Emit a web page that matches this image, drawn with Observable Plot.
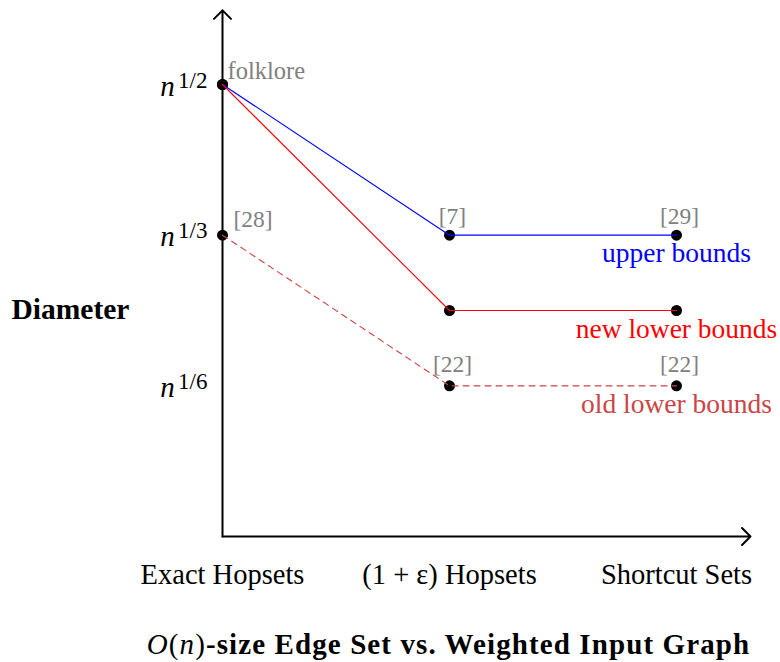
<!DOCTYPE html>
<html>
<head>
<meta charset="utf-8">
<script src="https://cdn.jsdelivr.net/npm/d3@7"></script>
<script src="https://cdn.jsdelivr.net/npm/@observablehq/plot@0.6"></script>
<style>
  html, body { margin: 0; padding: 0; background: #fff; overflow: hidden; }
  #chart svg { display: block; font-family: "Liberation Serif", serif; }
  #chart svg text { font-family: "Liberation Serif", serif; }
  #title {
    position: absolute; top: 630px; left: 448.5px; transform: translateX(-50%);
    font-family: "Liberation Serif", serif; font-size: 29px; line-height: 29px;
    font-weight: bold; white-space: nowrap; color: #000; letter-spacing: 1.1px;
  }
  #title .m { font-weight: normal; }
</style>
</head>
<body>
<div id="chart"></div>
<div id="title"><span class="m"><i>O</i>(<i>n</i>)</span>-size Edge Set vs. Weighted Input Graph</div>
<script>
// ---- data ----
const categories = ["Exact Hopsets", "(1 + ε) Hopsets", "Shortcut Sets"];
const seriesNames = ["upper bounds", "new lower bounds", "old lower bounds"];
const upperBounds = [1/2, 1/3, 1/3];
const newLowerBounds = [1/2, 1/4, 1/4];
const oldLowerBounds = [1/3, 1/6, 1/6];
const yTickValues = [1/2, 1/3, 1/6];
const yTickExponents = ["1/2", "1/3", "1/6"];
const upperRefs = ["folklore", "[7]", "[29]"];
const oldRefs = ["[28]", "[22]", "[22]"];
const seriesColors = ["#0000ff", "#ff0000", "#cc4444"];
const xAxisEnd = 2.326;
const yAxisEnd = 0.582;

const allSeries = [upperBounds, newLowerBounds, oldLowerBounds];
const points = [];
seriesNames.forEach((s, si) => {
  allSeries[si].forEach((v, i) => points.push({series: s, x: i, y: v}));
});
const solid = points.filter(d => d.series !== "old lower bounds");
const dashed = points.filter(d => d.series === "old lower bounds");
const lastPoints = points.filter(d => d.x === 2);

const upperRefRows = upperRefs.map((t, i) => ({x: i, y: upperBounds[i], t}));
const oldRefRows = oldRefs.map((t, i) => ({x: i, y: oldLowerBounds[i], t}));

const font = "Liberation Serif";

const chart = Plot.plot({
  width: 780,
  height: 600,
  marginLeft: 222,
  marginRight: 104,
  marginTop: 84,
  marginBottom: 64,
  x: {domain: [0, 2], axis: null},
  y: {domain: [0, 0.5], axis: null},
  color: {domain: seriesNames, range: seriesColors},
  style: {background: "#fff", overflow: "visible"},
  marks: [
    // axes with arrow heads
    Plot.arrow([0], {x1: 0, y1: 0, x2: 0, y2: yAxisEnd, stroke: "black", strokeWidth: 2, headLength: 9, headAngle: 90}),
    Plot.arrow([0], {x1: 0, y1: 0, x2: xAxisEnd, y2: 0, stroke: "black", strokeWidth: 2, headLength: 9, headAngle: 90}),
    // points
    Plot.dot(points, {x: "x", y: "y", r: 5.5, fill: "black"}),
    // series lines
    Plot.line(solid, {x: "x", y: "y", z: "series", stroke: "series", strokeWidth: 1.1}),
    Plot.line(dashed, {x: "x", y: "y", z: "series", stroke: "series", strokeWidth: 1.1, strokeDasharray: "6,5"}),
    // x category labels
    Plot.text(categories, {x: (d, i) => i, y: 0, text: d => d, lineAnchor: "bottom", dy: 47, fontSize: 28.5, fontFamily: font, fill: "black"}),
    // y tick labels n^{...}
    Plot.text(yTickValues, {x: 0, y: d => d, text: () => "n", textAnchor: "middle", lineAnchor: "bottom", dx: -55, dy: 11, fontSize: 29, fontFamily: font, fontStyle: "italic", fill: "black"}),
    Plot.text(yTickValues, {x: 0, y: d => d, text: (d, i) => yTickExponents[i], textAnchor: "end", lineAnchor: "bottom", dx: -15, dy: 3, fontSize: 23, fontFamily: font, fill: "black"}),
    // y axis title
    Plot.text(["Diameter"], {frameAnchor: "left", text: d => d, textAnchor: "middle", lineAnchor: "bottom", dx: -152, dy: 8, fontSize: 29.5, fontFamily: font, fontWeight: "bold", fill: "black"}),
    // reference labels
    Plot.text(upperRefRows.slice(0, 1), {x: "x", y: "y", text: "t", textAnchor: "start", lineAnchor: "bottom", dx: 5, dy: -6, fontSize: 24.5, fontFamily: font, fill: "#808080"}),
    Plot.text(upperRefRows.slice(1), {x: "x", y: "y", text: "t", textAnchor: "middle", lineAnchor: "bottom", dx: 3, dy: -11, fontSize: 23.5, fontFamily: font, fill: "#808080"}),
    Plot.text(oldRefRows.slice(0, 1), {x: "x", y: "y", text: "t", textAnchor: "middle", lineAnchor: "bottom", dx: 30.5, dy: -8, fontSize: 23.5, fontFamily: font, fill: "#808080"}),
    Plot.text(oldRefRows.slice(1), {x: "x", y: "y", text: "t", textAnchor: "middle", lineAnchor: "bottom", dx: 3, dy: -14, fontSize: 23.5, fontFamily: font, fill: "#808080"}),
    // series labels
    Plot.text(lastPoints, {x: "x", y: "y", text: "series", fill: "series", textAnchor: "middle", lineAnchor: "bottom", dy: 27, fontSize: 27.5, fontFamily: font})
  ]
});
document.getElementById("chart").appendChild(chart);
</script>
</body>
</html>
